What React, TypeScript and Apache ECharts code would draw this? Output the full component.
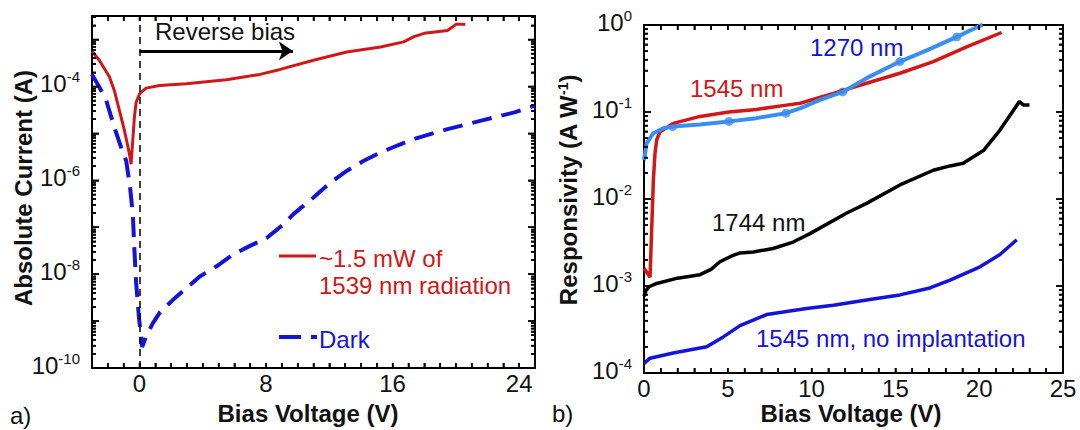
import React, { useEffect, useRef } from 'react';
import * as echarts from 'echarts';

const FONT = '"Liberation Sans", Arial, Helvetica, sans-serif';
const RED = '#d01818';
const BLUE = '#1414d8';
const LIGHT_BLUE = '#3a8ef0';
const BLACK = '#000000';

// ---- Panel a) : absolute current vs bias voltage ----
const illuminated: [number, number][] = [
  [-3.0, 5.6e-4], [-2.54, 3.6e-4], [-1.9, 1.6e-4], [-1.59, 8.2e-5], [-1.27, 3.1e-5],
  [-0.95, 1.15e-5], [-0.63, 3.6e-6], [-0.53, 2.2e-6], [-0.32, 2.2e-5], [-0.21, 4.6e-5],
  [0, 6.9e-5], [0.42, 9.2e-5], [1.27, 1.05e-4], [2.96, 1.14e-4], [5.5, 1.38e-4],
  [7.62, 1.8e-4], [8.89, 2.3e-4], [11.0, 3.6e-4], [13.1, 5.4e-4], [15.24, 6.9e-4],
  [16.7, 8.9e-4], [17.35, 1.15e-3], [18.0, 1.35e-3], [19.47, 1.55e-3], [19.8, 1.86e-3],
  [20.0, 2.1e-3], [20.6, 2.1e-3],
];
const dark: [number, number][] = [
  [-3.0, 1.8e-4], [-2.54, 9.7e-5], [-2.1, 5.0e-5], [-1.59, 1.35e-5], [-1.16, 5.0e-6],
  [-0.84, 2.6e-6], [-0.59, 6.9e-7], [-0.42, 1.9e-7], [-0.32, 3.3e-8], [-0.21, 6.5e-9],
  [-0.04, 1.26e-9], [0.17, 2.8e-10], [0.42, 4.7e-10], [0.84, 8.9e-10], [1.27, 1.5e-9],
  [2.1, 2.8e-9], [2.96, 5.0e-9], [3.81, 8.9e-9], [4.87, 1.47e-8], [5.9, 2.6e-8],
  [6.98, 4.0e-8], [8.04, 5.9e-8], [9.1, 1.15e-7], [9.73, 1.9e-7], [11.0, 4.3e-7],
  [12.06, 8.9e-7], [13.12, 1.6e-6], [14.18, 2.6e-6], [15.24, 3.9e-6], [16.3, 5.5e-6],
  [17.35, 7.6e-6], [19.47, 1.23e-5], [21.6, 1.86e-5], [23.7, 2.8e-5], [25.0, 3.9e-5],
];
const reverseBiasArrow: [number, number][] = [[0, 5.7e-4], [9.7, 5.7e-4]];
const aXLabels = [0, 8, 16, 24];
const aYLabelExponents = [-4, -6, -8, -10];

// ---- Panel b) : responsivity vs bias voltage ----
const resp1270: [number, number][] = [
  [0, 0.028], [0.16, 0.044], [0.56, 0.057], [1.15, 0.065], [1.71, 0.068], [3.34, 0.072],
  [5.07, 0.078], [6.7, 0.085], [8.47, 0.097], [9.31, 0.11], [10.5, 0.138], [11.85, 0.17],
  [13.28, 0.245], [15.27, 0.38], [16.87, 0.51], [18.66, 0.73], [20.05, 0.98], [20.2, 1.0],
];
const resp1270Markers: [number, number][] = [
  [1.71, 0.068], [5.07, 0.078], [8.47, 0.097], [11.85, 0.17], [15.27, 0.38], [18.66, 0.73],
];
const resp1545: [number, number][] = [
  [0, 1.6e-3], [0.36, 1.26e-3], [0.56, 0.0166], [0.66, 0.034], [0.76, 0.048], [0.95, 0.059],
  [1.75, 0.074], [3.34, 0.089], [5.07, 0.1], [6.7, 0.107], [8.5, 0.12], [9.31, 0.126],
  [11.3, 0.164], [13.28, 0.214], [15.27, 0.279], [17.26, 0.38], [19.25, 0.56], [21.34, 0.82],
];
const resp1744: [number, number][] = [
  [0, 7.6e-4], [0.12, 8.9e-4], [0.3, 9.8e-4], [0.76, 1.07e-3], [2.0, 1.23e-3], [3.34, 1.35e-3],
  [4.0, 1.55e-3], [4.53, 1.9e-3], [5.2, 2.2e-3], [5.73, 2.4e-3], [6.52, 2.46e-3], [7.7, 2.7e-3],
  [8.9, 3.2e-3], [9.9, 4.0e-3], [12.1, 6.9e-3], [13.28, 8.9e-3], [15.27, 0.0145], [17.26, 0.0214],
  [18.26, 0.024], [19.05, 0.0257], [20.25, 0.036], [21.24, 0.062], [22.4, 0.132], [22.65, 0.12],
  [23.0, 0.12],
];
const resp1545NoImpl: [number, number][] = [
  [0, 1.29e-4], [0.36, 1.48e-4], [1.75, 1.7e-4], [3.74, 2.0e-4], [4.73, 2.6e-4], [5.73, 3.5e-4],
  [7.32, 4.7e-4], [9.7, 5.5e-4], [11.3, 6.0e-4], [13.28, 6.9e-4], [15.27, 7.9e-4], [17.06, 9.5e-4],
  [18.26, 1.17e-3], [20.05, 1.66e-3], [21.24, 2.3e-3], [22.24, 3.4e-3],
];
const bXLabels = [0, 5, 10, 15, 20, 25];
const bYLabelExponents = [0, -1, -2, -3, -4];

// ---- axis ranges ----
const A_XMIN = -3, A_XMAX = 25;
const A_YMIN = 1e-10, A_YMAX = Math.pow(10, -2.5);
const B_XMIN = 0, B_XMAX = 25;
const B_YMIN = 1e-4, B_YMAX = 1;

const GRIDS = [
  { left: 92, top: 16, width: 443, height: 352 },
  { left: 644, top: 25, width: 419, height: 348 },
];

// ---- tick positions (inward ticks mirrored on all four sides) ----
function unitTicks(min: number, max: number): number[] {
  const out: number[] = [];
  for (let v = Math.ceil(min); v <= max; v++) if (v > min && v < max) out.push(v);
  return out;
}
function decadeTicks(min: number, max: number, major: boolean): number[] {
  const out: number[] = [];
  for (let n = Math.floor(Math.log10(min)); n <= Math.ceil(Math.log10(max)); n++) {
    for (let k = 1; k <= 9; k++) {
      if ((k === 1) !== major) continue;
      const v = k * Math.pow(10, n);
      if (v > min * 1.0001 && v < max * 0.9999) out.push(v);
    }
  }
  return out;
}

const tickRich = {
  b: { fontSize: 24, fontFamily: FONT, color: '#111', lineHeight: 28 },
  s: { fontSize: 15, fontFamily: FONT, color: '#111', lineHeight: 15, verticalAlign: 'top' as const },
};

const xLabelFmt = (allowed: number[]) => (v: number) => {
  const r = Math.round(v);
  return Math.abs(v - r) < 1e-6 && allowed.includes(r) ? String(r) : '';
};
const yLabelFmt = (allowed: number[]) => (v: number) => {
  const e = Math.log10(v);
  const r = Math.round(e);
  if (Math.abs(e - r) > 1e-6 || !allowed.includes(r)) return '';
  return `{b|10}{s|${r}}`;
};

// ----- main chart axes (lines + labels) -----
function xAxes(grid: number, min: number, max: number, labels: number[]) {
  const base = {
    gridIndex: grid, type: 'value', min, max, interval: 1,
    axisLine: { show: true, onZero: false, lineStyle: { color: BLACK, width: 2 } },
    axisTick: { show: false }, splitLine: { show: false },
  };
  return [
    { ...base, position: 'bottom', axisLabel: { show: true, margin: 3, color: '#111', fontSize: 24, fontFamily: FONT, formatter: xLabelFmt(labels) } },
    { ...base, position: 'top', axisLabel: { show: false } },
  ];
}
function yAxes(grid: number, min: number, max: number, exps: number[]) {
  const base = {
    gridIndex: grid, type: 'log', min, max, splitNumber: 8,
    axisLine: { show: true, onZero: false, lineStyle: { color: BLACK, width: 2 } },
    axisTick: { show: false }, splitLine: { show: false },
  };
  return [
    { ...base, position: 'left', axisLabel: { show: true, margin: 12, padding: [0, 0, 6, 0], formatter: yLabelFmt(exps), rich: tickRich } },
    { ...base, position: 'right', axisLabel: { show: false } },
  ];
}

// ----- tick overlay chart (same grids and scales, ticks only) -----
function tickXAxes(grid: number, min: number, max: number) {
  const base = {
    gridIndex: grid, type: 'value', min, max, interval: 1,
    axisLine: { show: false, onZero: false },
    axisLabel: { show: false }, splitLine: { show: false },
    axisTick: { show: true, inside: true, length: 5, lineStyle: { color: BLACK, width: 1.5 } },
  };
  return [{ ...base, position: 'bottom' }, { ...base, position: 'top' }];
}
function tickYAxes(grid: number, min: number, max: number) {
  const base = {
    gridIndex: grid, type: 'log', min, max, splitNumber: 8,
    axisLine: { show: false, onZero: false },
    axisLabel: { show: false }, splitLine: { show: false },
    axisTick: { show: true, inside: true, length: 7, lineStyle: { color: BLACK, width: 1.5 } },
    minorTick: { show: true, splitNumber: 9, length: 4, lineStyle: { color: BLACK, width: 1.5 } },
  };
  return [{ ...base, position: 'left' }, { ...base, position: 'right' }];
}
function tickLines(xi: number, yi: number, pts: number[][], dx: number, dy: number) {
  return {
    type: 'custom', xAxisIndex: xi, yAxisIndex: yi, data: pts,
    renderItem: (_params: any, api: any) => {
      const p = api.coord([api.value(0), api.value(1)]);
      return {
        type: 'line',
        shape: { x1: p[0], y1: p[1], x2: p[0] + dx, y2: p[1] + dy },
        style: { stroke: BLACK, lineWidth: 1.5 },
      };
    },
  };
}
function panelTicks(xi: number, yi: number, xMin: number, xMax: number, yMin: number, yMax: number) {
  const xs = unitTicks(xMin, xMax);
  const major = decadeTicks(yMin, yMax, true);
  const minor = decadeTicks(yMin, yMax, false);
  return [
    tickLines(xi, yi, xs.map((v) => [v, yMin]), 0, -5),
    tickLines(xi, yi, xs.map((v) => [v, yMax]), 0, 5),
    tickLines(xi, yi, major.map((v) => [xMin, v]), 7, 0),
    tickLines(xi, yi, major.map((v) => [xMax, v]), -7, 0),
    tickLines(xi, yi, minor.map((v) => [xMin, v]), 4, 0),
    tickLines(xi, yi, minor.map((v) => [xMax, v]), -4, 0),
  ];
}

function txt(text: string, x: number, y: number, color: string, opts: any = {}) {
  const style: any = {
    text, fill: color, fontSize: 24, fontFamily: FONT, fontWeight: opts.bold ? 'bold' : 'normal',
    align: opts.align || 'left', verticalAlign: 'middle',
  };
  if (opts.rich) style.rich = opts.rich;
  return { type: 'text', x, y, rotation: opts.rotation || 0, silent: true, style };
}

export default function App() {
  const ref = useRef<HTMLDivElement>(null);
  const tickRef = useRef<HTMLDivElement>(null);
  useEffect(() => {
    if (!ref.current || !tickRef.current) return;
    const chart = echarts.init(ref.current, undefined, { renderer: 'svg' });
    const option: any = {
      animation: false,
      backgroundColor: '#ffffff',
      grid: GRIDS,
      xAxis: [...xAxes(0, A_XMIN, A_XMAX, aXLabels), ...xAxes(1, B_XMIN, B_XMAX, bXLabels)],
      yAxis: [...yAxes(0, A_YMIN, A_YMAX, aYLabelExponents), ...yAxes(1, B_YMIN, B_YMAX, bYLabelExponents)],
      series: [
        {
          name: 'illuminated', type: 'line', xAxisIndex: 0, yAxisIndex: 0, data: illuminated,
          showSymbol: false, symbol: 'none', lineStyle: { color: RED, width: 3 }, silent: true,
          markLine: {
            silent: true, symbol: ['none', 'none'], label: { show: false },
            lineStyle: { color: BLACK, width: 1.5, type: [7, 5] },
            data: [{ xAxis: 0 }],
          },
        },
        {
          name: 'dark', type: 'line', xAxisIndex: 0, yAxisIndex: 0, data: dark,
          showSymbol: false, symbol: 'none', lineStyle: { color: BLUE, width: 4, type: [20, 10] }, silent: true,
          markLine: {
            silent: true, symbol: ['none', 'arrow'], symbolSize: 14, label: { show: false },
            lineStyle: { color: BLACK, width: 3, type: 'solid' },
            data: [[{ coord: reverseBiasArrow[0] }, { coord: reverseBiasArrow[1] }]],
          },
        },
        {
          name: '1545 nm, no implantation', type: 'line', xAxisIndex: 2, yAxisIndex: 2, data: resp1545NoImpl,
          showSymbol: false, symbol: 'none', lineStyle: { color: BLUE, width: 3.5 }, silent: true,
        },
        {
          name: '1744 nm', type: 'line', xAxisIndex: 2, yAxisIndex: 2, data: resp1744,
          showSymbol: false, symbol: 'none', lineStyle: { color: BLACK, width: 3.5 }, silent: true,
        },
        {
          name: '1545 nm', type: 'line', xAxisIndex: 2, yAxisIndex: 2, data: resp1545,
          showSymbol: false, symbol: 'none', lineStyle: { color: RED, width: 3.5 }, silent: true,
        },
        {
          name: '1270 nm', type: 'line', xAxisIndex: 2, yAxisIndex: 2, data: resp1270,
          showSymbol: false, symbol: 'none', lineStyle: { color: LIGHT_BLUE, width: 4 }, silent: true,
        },
        {
          name: '1270 nm markers', type: 'scatter', xAxisIndex: 2, yAxisIndex: 2, data: resp1270Markers,
          symbol: 'circle', symbolSize: 9, itemStyle: { color: LIGHT_BLUE }, silent: true,
        },
      ],
      graphic: [
        txt('Reverse bias', 155, 31, '#111'),
        { type: 'line', silent: true, shape: { x1: 279, y1: 256, x2: 316, y2: 256 }, style: { stroke: RED, lineWidth: 3 } },
        txt('~1.5 mW of', 319, 258, RED),
        txt('1539 nm radiation', 319, 285, RED),
        { type: 'line', silent: true, shape: { x1: 279, y1: 337, x2: 317, y2: 337 }, style: { stroke: BLUE, lineWidth: 4, lineDash: [22, 10] } },
        txt('Dark', 319, 339, BLUE),
        txt('a)', 10, 415, '#111'),
        txt('b)', 552, 413, '#111'),
        txt('Bias Voltage (V)', 308, 413, '#111', { bold: true, align: 'center' }),
        txt('Bias Voltage (V)', 851, 413, '#111', { bold: true, align: 'center' }),
        txt('Absolute Current (A)', 23, 188, '#111', { bold: true, align: 'center', rotation: Math.PI / 2 }),
        txt('Responsivity (A W{s|-1})', 568, 190, '#111', {
          bold: true, align: 'center', rotation: Math.PI / 2,
          rich: { s: { fontSize: 14, fontWeight: 'bold', fontFamily: FONT, fill: '#111', verticalAlign: 'top' } },
        }),
        txt('1270 nm', 810, 47, BLUE),
        txt('1545 nm', 690, 88, RED),
        txt('1744 nm', 712, 222, '#111'),
        txt('1545 nm, no implantation', 756, 338, BLUE),
      ],
    };
    chart.setOption(option);

    // ticks drawn by a second, transparent chart laid exactly over the first
    const ticks = echarts.init(tickRef.current, undefined, { renderer: 'svg' });
    ticks.setOption({
      animation: false,
      backgroundColor: 'transparent',
      grid: GRIDS,
      xAxis: [...tickXAxes(0, A_XMIN, A_XMAX), ...tickXAxes(1, B_XMIN, B_XMAX)],
      yAxis: [...tickYAxes(0, A_YMIN, A_YMAX), ...tickYAxes(1, B_YMIN, B_YMAX)],
      series: [
        ...panelTicks(0, 0, A_XMIN, A_XMAX, A_YMIN, A_YMAX),
        ...panelTicks(2, 2, B_XMIN, B_XMAX, B_YMIN, B_YMAX),
      ],
    } as any);
    return () => {
      ticks.dispose();
      chart.dispose();
    };
  }, []);
  return (
    <div>
      <div ref={ref} style={{ position: 'fixed', left: 0, top: 0, width: 1080, height: 430, background: '#fff' }} />
      <div ref={tickRef} style={{ position: 'fixed', left: 0, top: 0, width: 1080, height: 430, pointerEvents: 'none', zIndex: 2 }} />
    </div>
  );
}
